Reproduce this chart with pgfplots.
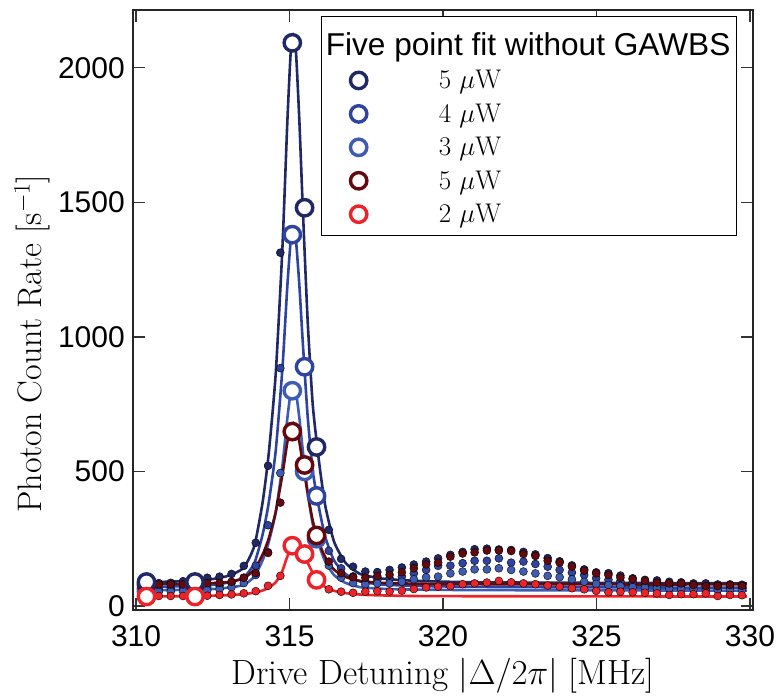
\RequirePackage{fix-cm}
\documentclass[border=0pt]{standalone}
\usepackage{fontspec}
\usepackage{pgfplots}
\usepackage{pgfplotstable}
\pgfplotsset{compat=1.18}
\newfontfamily\sansfont{Liberation Sans}
\definecolor{cnavy}{RGB}{33,40,102}
\definecolor{cblue}{RGB}{47,68,160}
\definecolor{clight}{RGB}{62,92,180}
\definecolor{cdred}{RGB}{100,10,14}
\definecolor{cred}{RGB}{238,34,41}

% measured points (dots)
\pgfplotstableread{
x navy bfour bthree dred red
310.34 89 65 54 80 35
310.74 85 63 53 80 37
311.13 86 65 54 80 37
311.53 92 66 55 80 37
311.92 89 66 55 80 35
312.32 105 70 58 85 38
312.72 109 75 62 86 41
313.11 119 85 70 90 43
313.51 149 105 85 105 47
313.90 235 150 115 122 55
314.30 521 300 200 197 75
314.70 1313 884 494 384 112
315.09 2093 1380 800 648 224
315.49 1480 889 500 524 193
315.88 591 409 250 262 97
316.28 283 205 150 165 62
316.68 175 140 105 122 53
317.07 146 110 85 107 49
317.47 128 90 80 105 53
317.86 126 97 84 111 55
318.26 134 103 84 116 54
318.66 143 109 90 125 57
319.05 154 121 99 140 63
319.45 165 134 107 154 69
319.84 177 149 109 161 72
320.24 190 150 121 183 74
320.64 201 159 128 195 81
321.03 211 168 136 199 84
321.43 213 168 136 206 87
321.82 210 177 140 206 93
322.22 208 161 134 204 88
322.62 201 165 128 193 84
323.01 192 156 121 186 81
323.41 178 146 112 168 76
323.80 166 134 107 161 72
324.20 151 124 99 146 66
324.60 136 115 90 131 62
324.99 125 103 82 121 56
325.39 122 97 78 115 51
325.78 113 92 74 105 53
326.18 103 88 70 99 51
326.58 97 85 68 94 49
326.97 95 82 66 87 47
327.37 90 80 64 84 41
327.76 88 78 62 84 44
328.16 84 76 62 78 44
328.56 84 74 60 74 47
328.95 80 74 60 74 37
329.35 80 72 59 78 41
329.74 79 70 60 75 40
}\dots

% five selected points: the three near the resonance ...
\pgfplotstableread{
x navy bfour bthree dred red
315.09 2093 1380 800 648 224
315.49 1480 889 500 524 193
315.88 591 409 250 262 97
}\fivepeak
% ... and the two far from it
\pgfplotstableread{
x navy bfour bthree dred red
310.34 89 65 54 80 35
311.92 89 66 55 80 35
}\fiveleft

% fitted curves
\pgfplotstableread{
x navy bfour bthree dred
310.10 88 71 59 81
311.00 90 72 59 82
312.00 94 75 61 83
312.50 100 79 63 85
313.00 112 87 68 89
313.50 141 105 78 102
313.85 222 158 109 135
314.12 383 264 169 190
314.32 564 382 236 250
314.55 863 577 348 350
314.77 1336 886 524 490
314.93 1804 1192 699 610
315.04 2062 1361 796 665
315.12 2119 1398 817 680
315.21 2058 1358 794 665
315.32 1804 1192 699 610
315.43 1484 983 580 530
315.59 1061 706 422 420
315.76 743 499 303 315
315.98 519 353 220 230
316.17 369 254 163 180
316.45 239 169 115 135
316.82 161 119 86 108
317.30 119 91 70 93
318.00 102 80 64 86
319.00 94 75 61 83
321.00 88 71 59 81
325.00 86 69 58 80
329.90 84 68 57 80
}\fits

\pgfplotstableread{
x red
310.10 35
312.00 37
313.00 40
313.60 45
314.00 53
314.30 66
314.55 88
314.75 125
314.90 175
315.05 218
315.15 226
315.30 213
315.45 190
315.60 158
315.75 124
315.90 98
316.10 75
316.40 58
316.80 48
317.50 41
319.00 37
322.00 36
329.90 35
}\redfit

\pgfplotsset{
  fitline/.style={no markers, line width=2.6pt, smooth, tension=0.35, forget plot},
  dot/.style={only marks, mark=*, mark size=4pt, mark options={draw=none, fill=#1}, forget plot},
  ring/.style={only marks, mark=*, mark size=8.2pt,
     mark options={draw=#1, fill=white, line width=3.4pt},
     legend image code/.code={\draw[mark repeat=2,mark phase=2,##1] plot coordinates {(0pt,0pt) (33pt,0pt) (66pt,0pt)};}},
}

\begin{document}
\begin{tikzpicture}
\begin{axis}[
  scale only axis,
  width=620pt, height=600pt,
  xmin=309.9, xmax=330.1,
  ymin=-15, ymax=2215,
  xtick={310,315,320,325,330},
  ytick={0,500,1000,1500,2000},
  tick align=inside,
  major tick length=12pt,
  axis line style={line width=1.3pt, black!85},
  every tick/.style={line width=1.3pt, black!80},
  /pgf/number format/assume math mode=true,
  /pgf/number format/1000 sep={},
  ticklabel style={font=\sansfont\fontsize{30}{34}\selectfont, inner sep=0pt},
  xticklabel style={anchor=north, yshift=-15pt},
  yticklabel style={anchor=east, xshift=-8pt},
  xlabel={Drive Detuning $|\Delta/2\pi|$ [MHz]},
  ylabel={Photon Count Rate [s$^{-1}$]},
  xlabel style={font=\fontsize{35}{40}\selectfont, at={(axis description cs:0.5,0)}, anchor=base, yshift=-74pt},
  ylabel style={font=\fontsize{34}{40}\selectfont, at={(axis description cs:0,0.444)}, anchor=base, yshift=91pt},
  legend style={at={(rel axis cs:0.974,0.99)}, anchor=north east,
     draw=black, line width=1pt, inner xsep=4pt, inner ysep=9pt,
     font=\fontsize{27}{30}\selectfont, row sep=9.5pt,
     nodes={inner sep=2pt}},
  legend cell align=left,
  clip=true,
]
\addlegendimage{empty legend}
\addlegendentry{\hspace*{-43pt}{\sansfont\fontsize{31.6}{36}\selectfont\rule{0pt}{28pt}Five point fit without GAWBS}}

\addplot[fitline, color=cnavy] table[x=x, y=navy] {\fits};
\addplot[fitline, color=cblue] table[x=x, y=bfour] {\fits};
\addplot[fitline, color=clight] table[x=x, y=bthree] {\fits};
\addplot[fitline, color=cdred] table[x=x, y=dred] {\fits};
\addplot[fitline, color=cred] table[x=x, y=red] {\redfit};

\addplot[dot=cnavy] table[x=x, y=navy] {\dots};
\addplot[dot=cblue] table[x=x, y=bfour] {\dots};
\addplot[dot=clight] table[x=x, y=bthree] {\dots};
\addplot[dot=cdred] table[x=x, y=dred] {\dots};
\addplot[dot=cred] table[x=x, y=red] {\dots};

\addplot[ring=cnavy] table[x=x, y=navy] {\fivepeak};
\addlegendentry{\hspace*{70pt}5 $\mu$W}
\addplot[ring=cblue] table[x=x, y=bfour] {\fivepeak};
\addlegendentry{\hspace*{70pt}4 $\mu$W}
\addplot[ring=clight] table[x=x, y=bthree] {\fivepeak};
\addlegendentry{\hspace*{70pt}3 $\mu$W}
\addplot[ring=cdred] table[x=x, y=dred] {\fivepeak};
\addlegendentry{\hspace*{70pt}5 $\mu$W}
\addplot[ring=cred] table[x=x, y=red] {\fivepeak};
\addlegendentry{\hspace*{70pt}2 $\mu$W}

\addplot[ring=cblue, forget plot] table[x=x, y=bfour] {\fiveleft};
\addplot[ring=clight, forget plot] table[x=x, y=bthree] {\fiveleft};
\addplot[ring=cdred, forget plot] table[x=x, y=dred] {\fiveleft};
\addplot[ring=cnavy, forget plot] table[x=x, y=navy] {\fiveleft};
\addplot[ring=cred, forget plot] table[x=x, y=red] {\fiveleft};
\end{axis}
\pgfresetboundingbox
\path[use as bounding box] ([shift={(-133pt,-88pt)}]current axis.south west) rectangle ([shift={(25pt,10pt)}]current axis.north east);
\end{tikzpicture}
\end{document}
